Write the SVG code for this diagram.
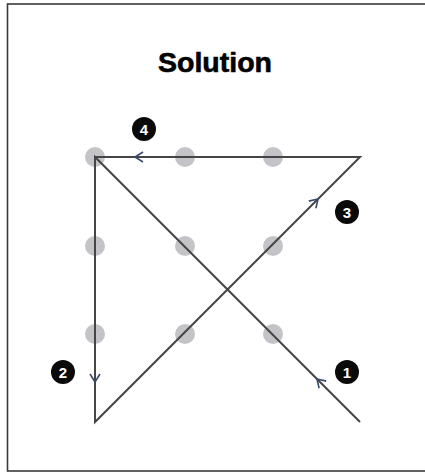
<svg xmlns="http://www.w3.org/2000/svg" width="425" height="474" viewBox="0 0 425 474">
<style>
.dot{fill:#c4c4c8}
.edge{stroke:#454545;stroke-width:2;fill:none}
.arr{stroke:#3a4a6a;stroke-width:1.6;fill:none}
.badge{fill:#0a0a0a}
.num{fill:#ffffff;font-family:"Liberation Sans",Arial,sans-serif;font-weight:bold;font-size:15px;text-anchor:middle}
.title{fill:#000;font-family:"Liberation Sans",Arial,sans-serif;font-weight:bold;font-size:28.5px;text-anchor:middle;stroke:#000;stroke-width:0.6}
</style>
<rect x="0" y="0" width="425" height="474" fill="#ffffff"/>
<rect x="7.5" y="4" width="420" height="467" fill="none" stroke="#3a3a3a" stroke-width="1.6"/>
<text class="title" x="215" y="72">Solution</text>
<g id="dots">
<circle id="d11" class="dot" cx="95" cy="157" r="10"/>
<circle id="d12" class="dot" cx="185" cy="157" r="10"/>
<circle id="d13" class="dot" cx="273" cy="157" r="10"/>
<circle id="d21" class="dot" cx="95" cy="246" r="10"/>
<circle id="d22" class="dot" cx="185" cy="246" r="10"/>
<circle id="d23" class="dot" cx="273" cy="246" r="10"/>
<circle id="d31" class="dot" cx="95" cy="334" r="10"/>
<circle id="d32" class="dot" cx="185" cy="334" r="10"/>
<circle id="d33" class="dot" cx="273" cy="334" r="10"/>
</g>
<g id="connectors">
<path class="edge" d="M360,422 L95,157 L95,422 L360,157 L95,157"/>
<path class="arr" d="M143,152 L135,157 L143,162"/>
<path class="arr" d="M90,374 L95,382 L100,374"/>
<path class="arr" d="M308.8,201.1 L318,199 L315.9,208.2"/>
<path class="arr" d="M326.2,381.1 L317,379 L319.1,388.2"/>
</g>
<g id="badge1"><circle class="badge" cx="347" cy="372" r="12"/><text class="num" x="347" y="377.5">1</text></g>
<g id="badge2"><circle class="badge" cx="63" cy="372" r="12"/><text class="num" x="63" y="377.5">2</text></g>
<g id="badge3"><circle class="badge" cx="347" cy="212" r="12"/><text class="num" x="347" y="217.5">3</text></g>
<g id="badge4"><circle class="badge" cx="144" cy="129" r="12"/><text class="num" x="144" y="134.5">4</text></g>
</svg>
